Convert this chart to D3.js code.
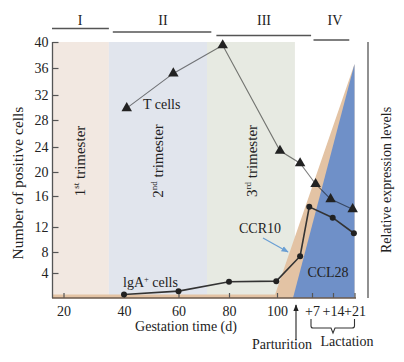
<!DOCTYPE html>
<html><head><meta charset="utf-8">
<script src="https://cdn.jsdelivr.net/npm/d3@7"></script>
<style>body{margin:0;background:#fff}svg{display:block}text{font-family:"Liberation Serif","DejaVu Serif",serif;fill:#222}</style>
</head><body><svg id="c" width="404" height="362"></svg>
<script>
// ---- data ----
const xTickValues = [20, 40, 60, 80, 100, 114, 121, 128];
const xTickLabels = ["20", "40", "60", "80", "100", "+7", "+14", "+21"];
const yTickValues = [4, 8, 12, 16, 20, 24, 28, 32, 36, 40];
const phaseLabels = ["I", "II", "III", "IV"];
const phaseStart = [16.2, 36.3, 75, 114.5];
const phaseEnd = [35, 73, 113.6, 126.3];
const trimesterNames = ["1", "2", "3"];
const trimesterSup = ["st", "nd", "rd"];
const trimesterStart = [16.2, 35, 71.3];
const trimesterEnd = [35, 71.3, 106.6];
const tCellX = [41, 58.1, 77.5, 101.1, 108.8, 115.2, 120.2, 127.4];
const tCellY = [29.9, 35.2, 39.5, 23.4, 21.4, 18, 15.6, 14.3];
const igaX = [40, 60, 80, 99.7, 108.8, 112.8, 120.9, 127.8];
const igaY = [0.56, 1.1, 2.6, 2.7, 7.2, 14.6, 13.2, 11];
const ccr10X = [16.2, 99.2, 128];
const ccr10V = [0.015, 0.015, 1];
const ccl28X = [105.9, 128];
const ccl28V = [0, 1];

const svg = d3.select("#c");
// hand-drawn (uneven) axes → piecewise linear scales
const x = d3.scaleLinear()
  .domain([20, 40, 60, 80, 100, 107, 114, 121, 128])
  .range([63.5, 124, 178.5, 229, 277, 296, 312, 333, 354.5]);
const y = d3.scaleLinear()
  .domain([0, 4, 8, 12, 16, 20, 24, 28, 32, 36, 40])
  .range([298, 273, 252, 227, 196, 172, 147, 120, 95, 68, 42]);
const y2 = d3.scaleLinear().domain([0, 1]).range([298, 64]);

const bandColors = ["#f2e8e1", "#e1e5ed", "#e7eae2"];
// trimester bands
svg.append("g").selectAll("rect").data(trimesterStart).join("rect")
  .attr("x", (d) => x(d)).attr("width", (d, i) => x(trimesterEnd[i]) - x(d))
  .attr("y", y(40)).attr("height", y(0) - y(40))
  .attr("fill", (d, i) => bandColors[i]);

// expression areas
const ccr10 = ccr10X.map((d, i) => ({x: d, v: ccr10V[i]}));
const ccl28 = ccl28X.map((d, i) => ({x: d, v: ccl28V[i]}));
const area = d3.area().x(d => x(d.x)).y0(y2(0)).y1(d => y2(d.v));
svg.append("path").attr("d", area(ccr10)).attr("fill", "#e3c3a4");
svg.append("path").attr("d", area(ccl28)).attr("fill", "#6f90c8");

// trimester labels
trimesterNames.forEach((n, i) => {
  const px = [85, 163, 257][i];
  const t = svg.append("text").attr("transform", `translate(${px},161) rotate(-90)`)
    .attr("text-anchor", "middle").style("font-size", "15px");
  t.append("tspan").text(n);
  t.append("tspan").attr("dy", -6).style("font-size", "9px").text(trimesterSup[i]);
  t.append("tspan").attr("dy", 6).text(" trimester");
});

// phase header
const phaseY = [28.5, 32, 35.5, 40];
const phaseTextX = [80, 163, 264, 335];
phaseLabels.forEach((p, i) => {
  svg.append("line").attr("x1", x(phaseStart[i])).attr("x2", x(phaseEnd[i]))
    .attr("y1", phaseY[i]).attr("y2", phaseY[i]).attr("stroke", "#555").attr("stroke-width", 1.5);
  svg.append("text").attr("x", phaseTextX[i]).attr("y", 25).attr("text-anchor", "middle")
    .style("font-size", "14px").text(p);
});

// axes
const xAxis = d3.axisBottom(x).tickValues(xTickValues).tickFormat((d, i) => xTickLabels[i])
  .tickSizeInner(-5).tickSizeOuter(0).tickPadding(8);
const gx = svg.append("g").attr("transform", `translate(0,${y(0)})`).call(xAxis);
gx.select(".domain").remove();
gx.selectAll("line").attr("stroke", "#555").attr("stroke-width", 1.2);
gx.selectAll("text").style("font-size", "14px").style("font-family", "Liberation Serif").attr("fill", "#222");
svg.append("line").attr("x1", 52).attr("x2", 356).attr("y1", y(0)).attr("y2", y(0))
  .attr("stroke", "#6b5a4c").attr("stroke-width", 1.5);

const yAxis = d3.axisLeft(y).tickValues(yTickValues).tickSizeInner(-6).tickSizeOuter(0).tickPadding(4);
const gy = svg.append("g").attr("transform", "translate(52.5,0)").call(yAxis);
gy.select(".domain").remove();
gy.selectAll("line").attr("stroke", "#555").attr("stroke-width", 1.2);
gy.selectAll("text").style("font-size", "14px").style("font-family", "Liberation Serif").attr("fill", "#222");
svg.append("line").attr("x1", 52.5).attr("x2", 52.5).attr("y1", y(40)).attr("y2", y(0))
  .attr("stroke", "#555").attr("stroke-width", 1.3);

// right axis
svg.append("line").attr("x1", 368).attr("x2", 368).attr("y1", 42).attr("y2", 298)
  .attr("stroke", "#555").attr("stroke-width", 1.3);

// T cells
const tData = tCellX.map((d, i) => ({x: d, y: tCellY[i]}));
const line = d3.line().x(d => x(d.x)).y(d => y(d.y));
svg.append("path").attr("d", line(tData)).attr("fill", "none").attr("stroke", "#000")
  .attr("stroke-opacity", 0.5).attr("stroke-width", 1.1);
svg.append("g").selectAll("path").data(tData).join("path")
  .attr("transform", d => `translate(${x(d.x)},${y(d.y)})`)
  .attr("d", d3.symbol(d3.symbolTriangle, 48)).attr("fill", "#222");

// IgA cells
const iData = igaX.map((d, i) => ({x: d, y: igaY[i]}));
svg.append("path").attr("d", line(iData)).attr("fill", "none").attr("stroke", "#333").attr("stroke-width", 1.6);
svg.append("g").selectAll("circle").data(iData).join("circle")
  .attr("cx", d => x(d.x)).attr("cy", d => y(d.y)).attr("r", 3).attr("fill", "#222");

// labels
svg.append("text").attr("x", 143).attr("y", 109).style("font-size", "14px").text("T cells");
const ig = svg.append("text").attr("x", 123).attr("y", 287).style("font-size", "14px");
ig.append("tspan").text("lgA");
ig.append("tspan").attr("dy", -5).style("font-size", "8.5px").text("+");
ig.append("tspan").attr("dy", 5).text(" cells");
svg.append("text").attr("x", 260).attr("y", 233).attr("text-anchor", "middle").style("font-size", "14px").text("CCR10");
svg.append("text").attr("x", 328).attr("y", 277).attr("text-anchor", "middle").style("font-size", "14px").text("CCL28");

// arrows
const defs = svg.append("defs");
defs.append("marker").attr("id", "ab").attr("viewBox", "0 0 10 10").attr("refX", 9).attr("refY", 5)
  .attr("markerWidth", 6).attr("markerHeight", 6).attr("orient", "auto")
  .append("path").attr("d", "M0,1L10,5L0,9z").attr("fill", "#6a9fd4");
defs.append("marker").attr("id", "ak").attr("viewBox", "0 0 10 10").attr("refX", 9).attr("refY", 5)
  .attr("markerWidth", 6).attr("markerHeight", 6).attr("orient", "auto")
  .append("path").attr("d", "M0,1L10,5L0,9z").attr("fill", "#222");
svg.append("line").attr("x1", 263).attr("y1", 238).attr("x2", 288).attr("y2", 252)
  .attr("stroke", "#6a9fd4").attr("stroke-width", 1.2).attr("marker-end", "url(#ab)");
svg.append("line").attr("x1", 296).attr("y1", 340).attr("x2", 296).attr("y2", 305)
  .attr("stroke", "#222").attr("stroke-width", 1.1).attr("marker-end", "url(#ak)");

// lactation bracket
svg.append("path").attr("d", "M311,319 L311,326 Q311,328 313,328 L331,328 L333,333 L335,328 L352,328 Q354.5,328 354.5,326 L354.5,319")
  .attr("fill", "none").attr("stroke", "#333").attr("stroke-width", 1.1);

svg.append("text").attr("x", 282).attr("y", 349).attr("text-anchor", "middle").style("font-size", "14px").text("Parturition");
svg.append("text").attr("x", 347).attr("y", 346).attr("text-anchor", "middle").style("font-size", "14px").text("Lactation");
svg.append("text").attr("x", 186).attr("y", 331).attr("text-anchor", "middle").style("font-size", "14px").text("Gestation time (d)");
svg.append("text").attr("transform", "translate(23,183) rotate(-90)").attr("text-anchor", "middle")
  .style("font-size", "15.5px").text("Number of positive cells");
svg.append("text").attr("transform", "translate(391,180) rotate(-90)").attr("text-anchor", "middle")
  .style("font-size", "14px").text("Relative expression levels");
</script></body></html>
